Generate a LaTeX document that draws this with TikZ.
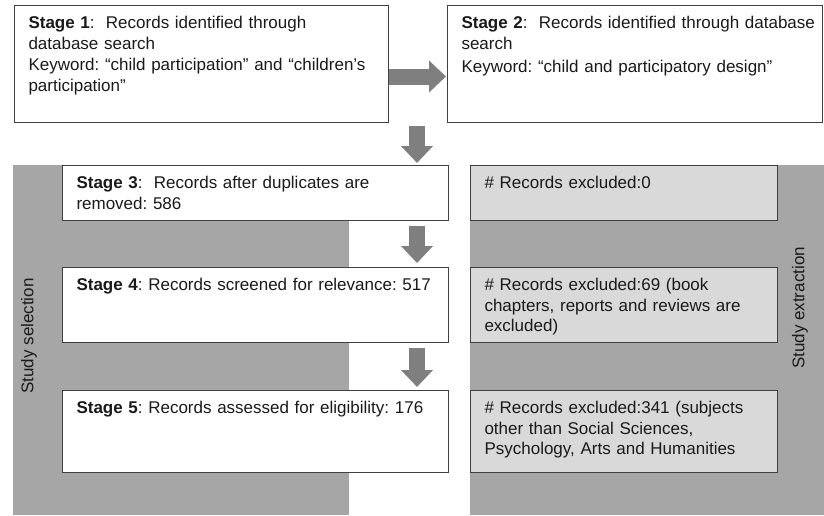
\documentclass[tikz,border=0pt]{standalone}
\usepackage{fontspec}
\setmainfont{Liberation Sans}
\usepackage{xcolor}
\usepackage{tikz}
\usetikzlibrary{arrows.meta}
\usetikzlibrary{positioning}

\definecolor{bandgray}{HTML}{A6A6A6}
\definecolor{boxgray}{HTML}{D9D9D9}
\definecolor{arrowgray}{HTML}{7F7F7F}
\definecolor{edgegray}{HTML}{404040}
\definecolor{textblack}{HTML}{1A1A1A}

\begin{document}
\frenchspacing
\begin{tikzpicture}[
    x=1pt, y=-1pt,
    every node/.style={font=\fontsize{17}{20.5}\selectfont\frenchspacing, text=textblack},
    stagebox/.style={draw=edgegray, line width=1pt, fill=white, anchor=north west,
      align=left, inner xsep=14pt, inner ysep=10.5pt, text height=12.5pt},
    exclbox/.style={stagebox, fill=boxgray},
    sidelabel/.style={rotate=90},
    fatarrow/.style={draw=arrowgray, line width=16pt},
  ]
\tikzset{>={Triangle[length=17pt, width=31pt]}}

  \useasboundingbox (0,0) rectangle (824,515);

  % background bands
  \fill[bandgray] (13,165) rectangle (349,515);
  \fill[bandgray] (470,165) rectangle (824,515);

  \node[stagebox, text width=346pt, text depth=83.5pt] (s1) at (14,5)
    {\textbf{Stage 1}:\ \ Records identified through\\database search\\[1pt]
     Keyword: “child participation” and “children’s\\participation”};
  \node[stagebox, text width=347pt, text depth=83.5pt] (s2) at (447,5)
    {\mbox{\textbf{Stage 2}:\ \ Records identified through database}\\search\\[3pt]
     Keyword: “child and participatory design”};

  \node[stagebox, text width=358pt, text depth=21.5pt] (s3) at (62,165)
    {\textbf{Stage 3}:\ \ Records after duplicates are\\removed: 586};
  \node[stagebox, text width=358pt, text depth=41.5pt] (s4) at (62,267)
    {\textbf{Stage 4}: Records screened for relevance: 517};
  \node[stagebox, text width=358pt, text depth=48.5pt] (s5) at (62,390)
    {\textbf{Stage 5}: Records assessed for eligibility: 176};

  \node[exclbox, text width=279pt, text depth=21.5pt] (e3) at (470,165)
    {\# Records excluded:0};
  \node[exclbox, text width=279pt, text depth=41.5pt] (e4) at (470,267)
    {\# Records excluded:69 (book\\chapters, reports and reviews are\\excluded)};
  \node[exclbox, text width=279pt, text depth=48.5pt] (e5) at (470,390)
    {\# Records excluded:341 (subjects\\other than Social Sciences,\\Psychology, Arts and Humanities};

  \node[sidelabel] (sel) at (29,336) {Study selection};
  \node[sidelabel] (ext) at (800,308) {Study extraction};

  \coordinate (ax) at (417,0);

  \draw[fatarrow, ->, shorten >=1pt] ([yshift=-12.5pt]s1.east) -- ([yshift=-12.5pt]s2.west);
  \draw[fatarrow, ->, shorten <=3pt, shorten >=2pt] (ax |- s1.south) -- (ax |- s3.north);
  \draw[fatarrow, ->, shorten <=5pt, shorten >=4pt] (ax |- s3.south) -- (ax |- s4.north);
  \draw[fatarrow, ->, shorten <=5pt, shorten >=3pt] (ax |- s4.south) -- (ax |- s5.north);

\end{tikzpicture}
\end{document}
